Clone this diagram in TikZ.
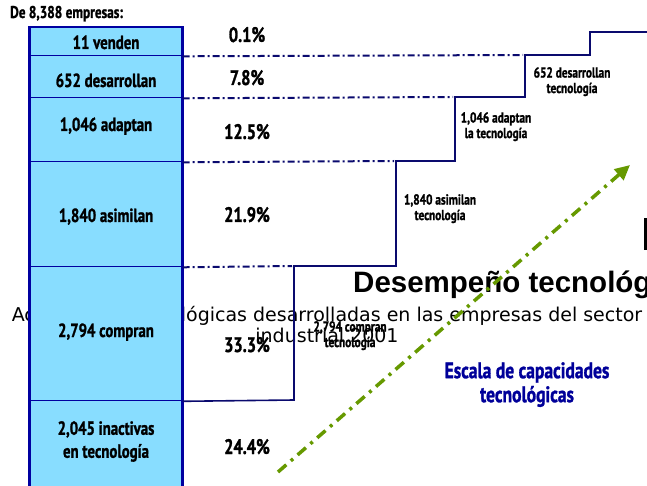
\documentclass[tikz,border=0pt]{standalone}
\usepackage{fontspec}
\usetikzlibrary{arrows.meta}
\newfontfamily\cf[FakeStretch=0.78,FakeBold=1.2]{PT Sans}
\newfontfamily\subfont{DejaVu Sans}
\newfontfamily\titfont{Liberation Sans}
\definecolor{colfill}{RGB}{136,221,255}
\definecolor{colborder}{RGB}{0,0,160}
\definecolor{navy}{RGB}{10,10,110}
\definecolor{arrgreen}{RGB}{102,153,0}
\definecolor{escblue}{RGB}{0,0,153}
\tikzset{
  rowbox/.style={draw=colborder, fill=colfill, line width=1.3pt, minimum width=152pt, inner sep=0pt, rectangle},
  collab/.style={font=\cf\bfseries\fontsize{19}{23}\selectfont, inner sep=0pt, align=center},
  pct/.style={font=\cf\bfseries\fontsize{21}{24}\selectfont, inner sep=0pt},
  stairlab/.style={font=\cf\bfseries\fontsize{14.5}{15.5}\selectfont, inner sep=0pt, align=center, anchor=north},
  dashdotline/.style={navy, line width=2pt, dash pattern=on 7pt off 3pt on 2pt off 3pt},
  stairline/.style={navy, line width=1.6pt},
  greenarrow/.style={arrgreen, line width=3.5pt, dash pattern=on 11pt off 6pt on 3pt off 6pt, -{Triangle[length=15pt,width=14pt]}},
}
\begin{document}
\begin{tikzpicture}[x=1pt,y=-1pt]
\useasboundingbox (0,0) rectangle (647,486);
\clip (0,0) rectangle (647,486);
% background slide texts
\node[font=\subfont\fontsize{19}{21}\selectfont, align=center, anchor=north, inner sep=0pt] (sub) at (327,306)
  {Actividades tecnológicas desarrolladas en las empresas del sector\\industrial 2001};
\node[font=\titfont\bfseries\fontsize{29.5}{31}\selectfont, anchor=base west, inner sep=0pt] (tit) at (353,292) {Desempeño tecnológ};
\fill (644,218) rectangle (648,250);
% column
\node[rowbox, minimum height=28pt, anchor=north] (r1) at (106,27) {};
\node[rowbox, minimum height=42pt, anchor=north] (r2) at (106,55) {};
\node[rowbox, minimum height=64pt, anchor=north] (r3) at (106,97) {};
\node[rowbox, minimum height=105pt, anchor=north] (r4) at (106,161) {};
\node[rowbox, minimum height=134pt, anchor=north] (r5) at (106,266) {};
\node[rowbox, minimum height=92pt, anchor=north] (r6) at (106,400) {};
\draw[colborder, line width=2.2pt] (r6.south west) -- (r1.north west) -- (r1.north east) -- (r6.south east);
% header
\node[font=\cf\bfseries\fontsize{17}{19}\selectfont, anchor=base west, inner sep=0pt] (hdr) at (10,18) {De 8,388 empresas:};
% column labels
\node[collab, anchor=base] (l1) at (106,49) {11 venden};
\node[collab, anchor=base] (l2) at (106,87) {652 desarrollan};
\node[collab, anchor=base] (l3) at (106,131) {1,046 adaptan};
\node[collab, anchor=base] (l4) at (106,222) {1,840 asimilan};
\node[collab, anchor=base] (l5) at (106,337) {2,794 compran};
\node[collab, anchor=north] (l6) at (106,421) {2,045 inactivas\\en tecnología};
% dash-dot guide lines
\coordinate (d1) at (523,55);
\coordinate (d2) at (453,97);
\coordinate (d3) at (394,161);
\coordinate (d4) at (292,266);
\draw[dashdotline] (r1.south east) -- (d1);
\draw[dashdotline] (r2.south east) -- (d2);
\draw[dashdotline] (r3.south east) -- (d3);
\draw[dashdotline] (r4.south east) -- (d4);
% staircase
\draw[stairline] (r5.south east) -- (294,400) -- (294,266) -- (396,266) -- (396,161) -- (455,161)
  -- (455,97) -- (525,97) -- (525,55) -- (590,55) -- (590,32) -- (650,32);
% percentages
\node[pct, anchor=base] (p1) at (247,42) {0.1\%};
\node[pct, anchor=base] (p2) at (247,85) {7.8\%};
\node[pct, anchor=base] (p3) at (247,139) {12.5\%};
\node[pct, anchor=base] (p4) at (247,222) {21.9\%};
\node[pct, anchor=base] (p5) at (247,352) {33.3\%};
\node[pct, anchor=base] (p6) at (247,454) {24.4\%};
% stair labels
\node[stairlab] (s1) at (572,67) {652 desarrollan\\tecnología};
\node[stairlab] (s2) at (496,112) {1,046 adaptan\\la tecnología};
\node[stairlab] (s3) at (440,194) {1,840 asimilan\\tecnología};
\node[stairlab] (s4) at (350,321) {2,794 compran\\tecnología};
% scale label
\node[font=\cf\bfseries\fontsize{22.5}{24}\selectfont, text=escblue, align=center, anchor=north, inner sep=0pt] (esc) at (527,362)
  {Escala de capacidades\\tecnológicas};
% green arrow
\coordinate (gs) at (278,472);
\coordinate (ge) at (630,165);
\draw[greenarrow] (gs) -- (ge);
\end{tikzpicture}
\end{document}
